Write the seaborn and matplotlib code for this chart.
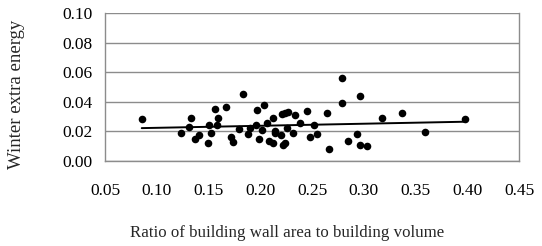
import seaborn as sns
import pandas as pd
import matplotlib
matplotlib.use('Agg')
import matplotlib.pyplot as plt

# ratio of wall area to volume
ratio = [0.0855, 0.1237, 0.1328, 0.1315, 0.1366, 0.1405, 0.1495, 0.1505, 0.1527, 0.1560,
         0.1592, 0.1582, 0.1669, 0.1714, 0.1734, 0.1797, 0.1836, 0.1881, 0.1904, 0.1956,
         0.1971, 0.1985, 0.2020, 0.2036, 0.2065, 0.2087, 0.2126, 0.2128, 0.2139, 0.2145,
         0.2197, 0.2210, 0.2220, 0.2240, 0.2240, 0.2265, 0.2256, 0.2319, 0.2340, 0.2380,
         0.2450, 0.2483, 0.2524, 0.2547, 0.2642, 0.2664, 0.2793, 0.2793, 0.2848, 0.2935,
         0.2965, 0.2962, 0.3036, 0.3176, 0.3369, 0.3588, 0.3981]
# winter extra energy
energy = [0.0287, 0.0188, 0.0294, 0.0231, 0.0149, 0.0174, 0.0120, 0.0242, 0.0190, 0.0355,
          0.0294, 0.0242, 0.0366, 0.0165, 0.0129, 0.0215, 0.0452, 0.0183, 0.0222, 0.0244,
          0.0346, 0.0147, 0.0210, 0.0382, 0.0260, 0.0136, 0.0122, 0.0289, 0.0203, 0.0188,
          0.0176, 0.0317, 0.0108, 0.0120, 0.0326, 0.0330, 0.0225, 0.0192, 0.0310, 0.0256,
          0.0338, 0.0162, 0.0244, 0.0182, 0.0323, 0.0081, 0.0562, 0.0395, 0.0134, 0.0181,
          0.0442, 0.0106, 0.0103, 0.0294, 0.0325, 0.0195, 0.0287]

xticks = [0.05, 0.10, 0.15, 0.20, 0.25, 0.30, 0.35, 0.40, 0.45]
yticks = [0.00, 0.02, 0.04, 0.06, 0.08, 0.10]

df = pd.DataFrame({'ratio': ratio, 'energy': energy})

sns.set_style('white')
plt.rcParams['font.family'] = ['Liberation Serif', 'DejaVu Serif']

fig = plt.figure(figsize=(5.42, 2.46), dpi=100)
ax = fig.add_axes([0.1937, 0.3455, 0.7639, 0.6005])

gc = '#8c8c8c'
ax.set_axisbelow(True)
ax.yaxis.grid(True, color=gc, linewidth=1.0)

sns.regplot(data=df, x='ratio', y='energy', ax=ax, ci=None,
            scatter_kws={'s': 30, 'color': 'black', 'linewidths': 0, 'alpha': 1},
            line_kws={'color': 'black', 'linewidth': 1.4})

ax.set_xlim(0.05, 0.45)
ax.set_ylim(0.0, 0.10)
ax.set_xticks(xticks)
ax.set_yticks(yticks)
ax.set_xticklabels(['%.2f' % v for v in xticks])
ax.set_yticklabels(['%.2f' % v for v in yticks])

ax.spines['top'].set_visible(False)
for s in ['left', 'bottom', 'right']:
    ax.spines[s].set_color(gc)
    ax.spines[s].set_linewidth(1.0)

ax.tick_params(axis='both', colors=gc, labelcolor='black', labelsize=12.5,
               length=4, width=1.0, direction='out')
ax.tick_params(axis='x', pad=12)
ax.tick_params(axis='y', pad=5)

ax.set_xlabel('Ratio of building wall area to building volume', fontsize=12.2)
ax.set_ylabel('Winter extra energy', fontsize=13.5)
ax.xaxis.set_label_coords(0.441, -0.43)
ax.yaxis.set_label_coords(-0.193, 0.45)

fig.savefig('out.png', dpi=100)
